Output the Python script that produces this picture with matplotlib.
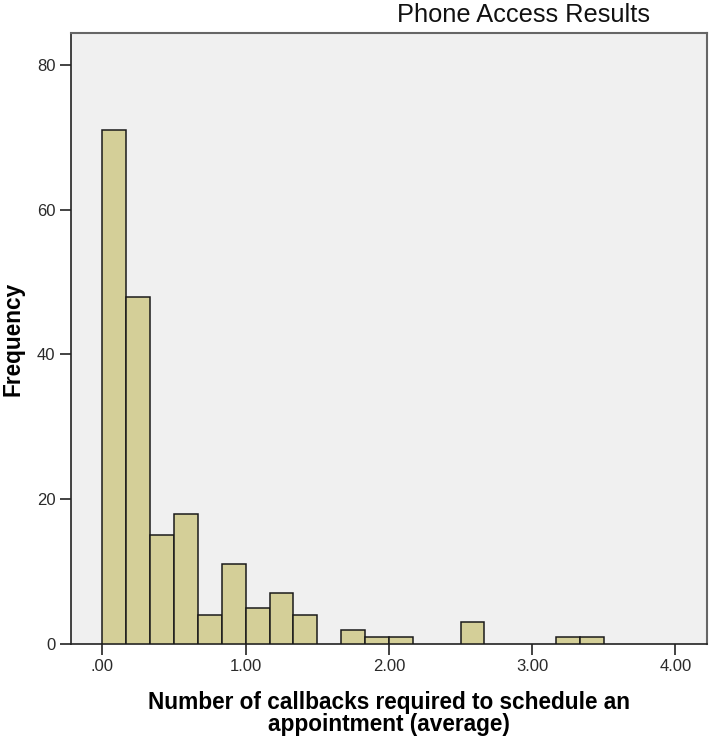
import matplotlib.pyplot as plt
import numpy as np

# Histogram counts, bins of width 1/6 starting at 0
bin_width = 1 / 6
counts = [71, 48, 15, 18, 4, 11, 5, 7, 4, 0, 2, 1, 1, 0, 0, 3, 0, 0, 0, 1, 1]
x_ticks = [0, 1, 2, 3, 4]
x_tick_labels = [".00", "1.00", "2.00", "3.00", "4.00"]
y_ticks = [0, 20, 40, 60, 80]

TITLE = "Phone Access Results"
XLABEL = "Number of callbacks required to schedule an\nappointment (average)"
YLABEL = "Frequency"

plt.rcParams["font.family"] = ["Liberation Sans", "DejaVu Sans"]

fig = plt.figure(figsize=(7.12, 7.43), dpi=100)
ax = fig.add_axes([0.0995, 0.1332, 0.8935, 0.8224])
ax.set_facecolor("#F0F0F0")

edges = np.arange(len(counts)) * bin_width
heights = np.array(counts, dtype=float)
mask = heights > 0
ax.bar(edges[mask], heights[mask], width=bin_width, align="edge",
       color="#D4CF98", edgecolor="#1a1a1a", linewidth=1.1, zorder=3)

ax.set_xlim(-0.22, 4.22)
ax.set_ylim(0, 84.4)
ax.set_xticks(x_ticks)
ax.set_xticklabels(x_tick_labels)
ax.set_yticks(y_ticks)
ax.tick_params(axis="both", direction="out", length=8, width=1.2,
               color="#222222", labelsize=12, labelcolor="#2a2a2a", pad=3)

for side in ["left", "bottom"]:
    ax.spines[side].set_color("#222222")
    ax.spines[side].set_linewidth(1.2)
for side in ["top", "right"]:
    ax.spines[side].set_color("#666666")
    ax.spines[side].set_linewidth(1.5)

ax.set_xlabel(XLABEL, fontsize=16.3, fontweight="bold", labelpad=12, linespacing=0.95)
ax.set_ylabel(YLABEL, fontsize=16.3, fontweight="bold", labelpad=9)

fig.text(0.735, 0.970, TITLE, fontsize=18.3, ha="center", va="baseline",
         color="#111111")

fig.savefig("out.png", dpi=100)
